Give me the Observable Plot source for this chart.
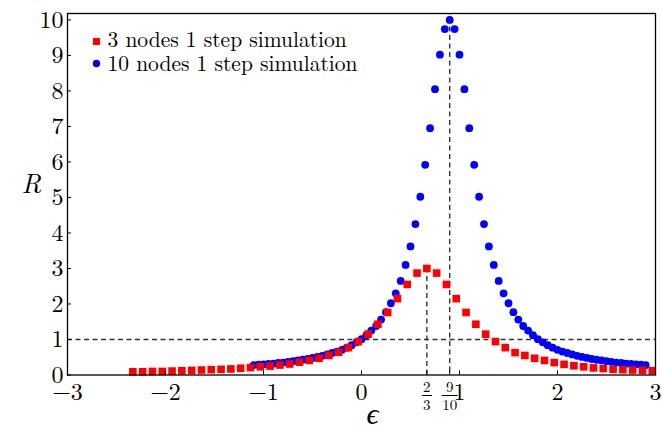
<!DOCTYPE html>
<html>
<head>
<meta charset="utf-8">
<script src="https://cdn.jsdelivr.net/npm/d3@7"></script>
<script src="https://cdn.jsdelivr.net/npm/@observablehq/plot@0.6"></script>
<style>
  html, body { margin: 0; padding: 0; background: #fff; }
  #chart svg { display: block; }
</style>
</head>
<body>
<div id="chart"></div>
<script>
// ε sweep and response R for the 3-node simulation (step 0.1, centred on 2/3)
const redEps = [-2.333, -2.233, -2.133, -2.033, -1.933, -1.833, -1.733, -1.633, -1.533, -1.433,
  -1.333, -1.233, -1.133, -1.033, -0.933, -0.833, -0.733, -0.633, -0.533, -0.433,
  -0.333, -0.233, -0.133, -0.033, 0.067, 0.167, 0.267, 0.367, 0.467, 0.567,
  0.667,
  0.767, 0.867, 0.967, 1.067, 1.167, 1.267, 1.367, 1.467, 1.567, 1.667,
  1.767, 1.867, 1.967, 2.067, 2.167, 2.267, 2.367, 2.467, 2.567, 2.667,
  2.767, 2.867, 2.967];
const redR = [0.09, 0.09, 0.10, 0.10, 0.11, 0.12, 0.13, 0.14, 0.15, 0.16,
  0.17, 0.19, 0.21, 0.23, 0.25, 0.28, 0.31, 0.36, 0.41, 0.47,
  0.55, 0.64, 0.77, 0.94, 1.15, 1.43, 1.76, 2.15, 2.55, 2.87,
  3.00,
  2.87, 2.55, 2.15, 1.76, 1.43, 1.15, 0.94, 0.77, 0.63, 0.55,
  0.47, 0.41, 0.35, 0.30, 0.26, 0.23, 0.20, 0.18, 0.16, 0.15,
  0.14, 0.13, 0.12];

// ε sweep and response R for the 10-node simulation (step 0.05, centred on 9/10)
const blueEps = [-1.10, -1.05, -1.00, -0.95, -0.90, -0.85, -0.80, -0.75, -0.70, -0.65,
  -0.60, -0.55, -0.50, -0.45, -0.40, -0.35, -0.30, -0.25, -0.20, -0.15,
  -0.10, -0.05, 0.00, 0.05, 0.10, 0.15, 0.20, 0.25, 0.30, 0.35,
  0.40, 0.45, 0.50, 0.55, 0.60, 0.65, 0.70, 0.75, 0.80, 0.85,
  0.90,
  0.95, 1.00, 1.05, 1.10, 1.15, 1.20, 1.25, 1.30, 1.35, 1.40,
  1.45, 1.50, 1.55, 1.60, 1.65, 1.70, 1.75, 1.80, 1.85, 1.90,
  1.95, 2.00, 2.05, 2.10, 2.15, 2.20, 2.25, 2.30, 2.35, 2.40,
  2.45, 2.50, 2.55, 2.60, 2.65, 2.70, 2.75, 2.80, 2.85, 2.90];
const blueR = [0.28, 0.29, 0.30, 0.31, 0.32, 0.34, 0.35, 0.37, 0.39, 0.41,
  0.43, 0.45, 0.48, 0.51, 0.54, 0.58, 0.62, 0.66, 0.71, 0.77,
  0.84, 0.92, 1.01, 1.12, 1.25, 1.38, 1.56, 1.77, 2.02, 2.30,
  2.65, 3.10, 3.62, 4.25, 5.02, 5.92, 6.95, 8.05, 9.02, 9.74,
  10.00,
  9.74, 9.02, 8.05, 6.95, 5.92, 5.02, 4.25, 3.62, 3.10, 2.65,
  2.30, 2.02, 1.77, 1.56, 1.38, 1.25, 1.12, 1.01, 0.92, 0.84,
  0.77, 0.71, 0.66, 0.62, 0.58, 0.54, 0.51, 0.48, 0.45, 0.43,
  0.41, 0.39, 0.37, 0.35, 0.34, 0.32, 0.31, 0.30, 0.29, 0.28];

const seriesLabels = ["3 nodes 1 step simulation", "10 nodes 1 step simulation"];
const seriesColors = ["#ff0000", "#0000ff"];

// axis ticks
const xTickValues = [-3, -2, -1, 0, 1, 2, 3];
const yTickValues = [0, 1, 2, 3, 4, 5, 6, 7, 8, 9, 10];
const fracTicks = [
  {value: 2 / 3, num: "2", den: "3"},
  {value: 9 / 10, num: "9", den: "10"}
];

// reference levels: the peak locations/heights and R = 1
const peakEps = [2 / 3, 9 / 10];
const peakR = [3, 10];
const unitLevel = 1;

const xDomain = [-3, 3];
const yDomain = [0, 10.18];

const W = 662, H = 438;
const M = {top: 13, right: 7, bottom: 63.5, left: 67};
const frameW = W - M.left - M.right;
const frameH = H - M.top - M.bottom;
const pxPerX = frameW / (xDomain[1] - xDomain[0]);

const red = redEps.map((e, i) => ({eps: e, R: redR[i]}));
const blue = blueEps.map((e, i) => ({eps: e, R: blueR[i]}));
const peaks = peakEps.map((e, i) => ({eps: e, R: peakR[i]}));

const fmt = d => (d < 0 ? "\u2212" + Math.abs(d) : String(d));
const FONT = "'Latin Modern Roman', 'Liberation Serif', serif";
const dash = {stroke: "#333", strokeDasharray: "5,3.5", strokeWidth: 1.4};

const chart = Plot.plot({
  width: W,
  height: H,
  marginTop: M.top,
  marginRight: M.right,
  marginBottom: M.bottom,
  marginLeft: M.left,
  x: {domain: xDomain},
  y: {domain: yDomain},
  style: {fontFamily: FONT, fontSize: "24px", color: "black", background: "white"},
  marks: [
    // dashed guides
    Plot.ruleY([unitLevel], {y: d => d, x1: xDomain[0], x2: xDomain[1], ...dash}),
    Plot.ruleX([peaks[0]], {x: "eps", y1: 0, y2: "R", ...dash}),
    Plot.ruleX([peaks[1]], {x: "eps", y1: 0, y2: yDomain[1], insetTop: -3, ...dash}),

    // simulations
    Plot.dot(blue, {x: "eps", y: "R", r: 3.9, fill: seriesColors[1], stroke: "none"}),
    Plot.dot(red, {x: "eps", y: "R", symbol: "square", r: 4.3, fill: seriesColors[0], stroke: "none"}),

    // frame and inward ticks
    Plot.frame({stroke: "black", strokeWidth: 1.3}),
    Plot.tickX([...xTickValues, ...peakEps], {x: d => d, insetTop: frameH - 4, stroke: "black", strokeWidth: 1}),
    Plot.tickY(yTickValues, {y: d => d, insetRight: frameW - 4, stroke: "black", strokeWidth: 1}),

    // tick labels
    Plot.axisY(yTickValues, {tickSize: 0, tickPadding: 4, fontSize: 24, tickFormat: fmt, label: null}),
    Plot.axisX(xTickValues, {tickSize: 0, tickPadding: 8, fontSize: 24, tickFormat: fmt, label: null}),

    // fractional tick labels 2/3 and 9/10
    Plot.text(fracTicks, {x: "value", y: 0, text: "num", dy: 12.5, fontSize: 15, lineAnchor: "middle"}),
    Plot.text(fracTicks, {x: "value", y: 0, text: "den", dy: 30.5, fontSize: 15, lineAnchor: "middle"}),
    Plot.link(fracTicks, {
      x1: d => d.value - (d.den.length * 3 + 2) / pxPerX,
      x2: d => d.value + (d.den.length * 3 + 2) / pxPerX,
      y1: 0, y2: 0, dy: 20.5, stroke: "black", strokeWidth: 1
    }),

    // axis titles
    Plot.text(["R"], {frameAnchor: "left", dx: -46, dy: -10, fontSize: 27, fontStyle: "italic"}),
    Plot.text(["\u03F5"], {frameAnchor: "bottom", dx: 11, dy: 49, fontSize: 30, fontStyle: "italic"}),

    // legend
    Plot.dot([0], {frameAnchor: "top-left", dx: 29, dy: 28, symbol: "square", r: 4, fill: seriesColors[0], stroke: "none"}),
    Plot.dot([0], {frameAnchor: "top-left", dx: 29, dy: 50, r: 3.7, fill: seriesColors[1], stroke: "none"}),
    Plot.text([seriesLabels[0]], {frameAnchor: "top-left", dx: 40, dy: 26.5, textAnchor: "start", lineAnchor: "middle", fontSize: 21.5}),
    Plot.text([seriesLabels[1]], {frameAnchor: "top-left", dx: 40, dy: 50.5, textAnchor: "start", lineAnchor: "middle", fontSize: 21.5})
  ]
});

// serif typeface on every label
d3.select(chart).selectAll("text").style("font-family", FONT);

document.getElementById("chart").append(chart);
</script>
</body>
</html>
